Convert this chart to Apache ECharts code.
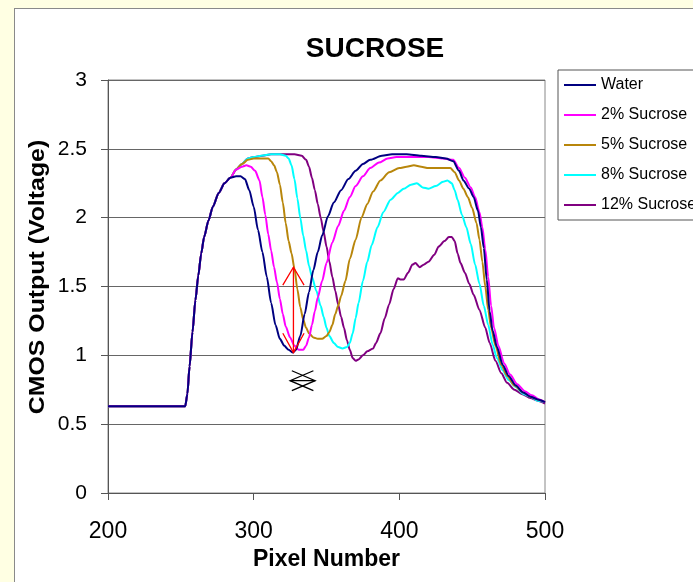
<!DOCTYPE html>
<html>
<head>
<meta charset="utf-8">
<script src="https://cdn.jsdelivr.net/npm/echarts@6/dist/echarts.min.js"></script>
<style>
  html, body { margin: 0; padding: 0; width: 693px; height: 582px; overflow: hidden; background: #FFFFE3; }
  #frame { position: absolute; left: 14px; top: 8px; width: 720px; height: 620px; background: #fff; border: 1px solid #8a8a8a; }
  #chart { position: absolute; left: 0; top: 0; width: 693px; height: 582px; }
</style>
</head>
<body>
<div id="frame"></div>
<div id="chart"></div>
<script>
// ---- Data ----
var seriesNames = ['Water', '2% Sucrose', '5% Sucrose', '8% Sucrose', '12% Sucrose'];

// common rising edge shared by all curves
var riseX = [200, 253, 254.5, 256, 258, 260, 262, 264, 266, 269, 272, 276, 280, 284];
var riseY = [0.63, 0.63, 0.72, 0.92, 1.17, 1.40, 1.58, 1.74, 1.86, 1.98, 2.08, 2.18, 2.25, 2.29];

var waterX = [288, 291, 294, 297, 300, 303, 306, 309, 312, 315, 318, 321, 324, 327, 329, 332, 335, 338, 341, 344, 347, 351, 355, 360, 365, 370, 375, 380, 388, 395, 405, 415, 425, 432, 437, 441, 444, 448, 451, 454, 456, 458, 460, 462, 464, 467, 471, 475, 480, 485, 490, 495, 500];
var waterY = [2.30, 2.30, 2.28, 2.20, 2.08, 1.91, 1.75, 1.57, 1.38, 1.22, 1.12, 1.07, 1.04, 1.02, 1.04, 1.14, 1.30, 1.46, 1.62, 1.75, 1.87, 2.01, 2.11, 2.20, 2.28, 2.34, 2.39, 2.42, 2.45, 2.46, 2.46, 2.45, 2.44, 2.43, 2.41, 2.34, 2.27, 2.21, 2.15, 2.05, 1.93, 1.78, 1.55, 1.32, 1.18, 1.06, 0.93, 0.85, 0.78, 0.73, 0.70, 0.68, 0.66];

var suc2X = [288, 292, 295, 298, 301, 304, 306, 308, 310, 312, 314, 316, 318, 320, 322, 325, 328, 331, 334, 336, 338, 340, 342, 344, 347, 350, 354, 358, 362, 366, 370, 375, 380, 386, 392, 398, 410, 420, 430, 437, 441, 445, 449, 452, 455, 457, 459, 461, 463, 465, 468, 472, 476, 481, 486, 491, 496, 500];
var suc2Y = [2.35, 2.37, 2.38, 2.37, 2.34, 2.27, 2.15, 2.02, 1.88, 1.76, 1.64, 1.53, 1.41, 1.30, 1.21, 1.13, 1.07, 1.04, 1.04, 1.07, 1.13, 1.22, 1.32, 1.42, 1.54, 1.67, 1.82, 1.94, 2.05, 2.15, 2.23, 2.30, 2.36, 2.40, 2.43, 2.44, 2.44, 2.44, 2.43, 2.42, 2.36, 2.29, 2.22, 2.15, 2.04, 1.93, 1.77, 1.57, 1.36, 1.20, 1.07, 0.94, 0.86, 0.79, 0.74, 0.71, 0.68, 0.66];

var suc5X = [288, 292, 296, 300, 306, 310, 312, 314, 316, 318, 320, 322, 324, 326, 328, 330, 332, 334, 336, 338, 341, 344, 347, 350, 352, 354, 356, 358, 360, 363, 366, 370, 374, 378, 382, 387, 393, 400, 405, 410, 415, 420, 428, 435, 438, 441, 444, 447, 450, 453, 455, 457, 459, 461, 463, 466, 470, 474, 479, 485, 490, 495, 500];
var suc5Y = [2.35, 2.39, 2.42, 2.43, 2.43, 2.43, 2.41, 2.38, 2.33, 2.24, 2.11, 1.96, 1.83, 1.74, 1.63, 1.48, 1.35, 1.26, 1.20, 1.16, 1.13, 1.12, 1.12, 1.14, 1.17, 1.22, 1.30, 1.36, 1.43, 1.54, 1.70, 1.84, 2.00, 2.10, 2.19, 2.27, 2.33, 2.36, 2.37, 2.38, 2.37, 2.36, 2.36, 2.36, 2.33, 2.27, 2.21, 2.15, 2.07, 1.96, 1.84, 1.68, 1.50, 1.33, 1.20, 1.07, 0.93, 0.85, 0.78, 0.73, 0.70, 0.68, 0.66];

var suc8X = [288, 292, 296, 300, 305, 312, 318, 322, 324, 326, 328, 330, 332, 334, 336, 338, 340, 343, 346, 348, 350, 352, 355, 358, 361, 364, 366, 368, 370, 372, 375, 378, 381, 385, 389, 394, 399, 403, 408, 412, 416, 420, 425, 430, 433, 436, 438, 440, 443, 446, 449, 452, 455, 458, 461, 464, 467, 471, 475, 480, 485, 490, 495, 500];
var suc8Y = [2.35, 2.39, 2.43, 2.44, 2.45, 2.46, 2.46, 2.45, 2.43, 2.38, 2.28, 2.14, 2.00, 1.87, 1.76, 1.65, 1.57, 1.47, 1.36, 1.28, 1.20, 1.14, 1.09, 1.06, 1.05, 1.06, 1.09, 1.16, 1.27, 1.38, 1.54, 1.68, 1.80, 1.93, 2.04, 2.13, 2.18, 2.21, 2.24, 2.25, 2.22, 2.21, 2.23, 2.26, 2.27, 2.25, 2.20, 2.13, 2.02, 1.93, 1.81, 1.66, 1.52, 1.36, 1.22, 1.08, 0.98, 0.89, 0.82, 0.77, 0.72, 0.70, 0.67, 0.66];

var suc12X = [288, 292, 296, 300, 306, 312, 320, 328, 333, 336, 338, 340, 342, 344, 346, 348, 350, 352, 354, 356, 358, 360, 362, 364, 366, 368, 370, 372, 375, 378, 382, 384, 387, 390, 393, 396, 399, 401, 403, 406, 409, 411, 414, 417, 420, 424, 427, 431, 434, 436, 438, 440, 442, 445, 448, 451, 455, 459, 462, 466, 470, 474, 479, 484, 490, 495, 500];
var suc12Y = [2.35, 2.39, 2.43, 2.44, 2.45, 2.46, 2.46, 2.46, 2.45, 2.42, 2.37, 2.29, 2.20, 2.10, 2.00, 1.90, 1.79, 1.68, 1.57, 1.47, 1.37, 1.28, 1.20, 1.11, 1.04, 0.98, 0.96, 0.97, 1.00, 1.03, 1.05, 1.09, 1.16, 1.27, 1.37, 1.48, 1.56, 1.55, 1.55, 1.60, 1.66, 1.67, 1.64, 1.66, 1.68, 1.73, 1.79, 1.83, 1.86, 1.86, 1.83, 1.74, 1.67, 1.60, 1.52, 1.44, 1.33, 1.20, 1.09, 0.96, 0.87, 0.80, 0.75, 0.72, 0.69, 0.67, 0.65];

// annotations (data coordinates)
var redShaft = [[327.3, 1.02], [327.3, 1.64]];
var redHeadTop = [[320.0, 1.51], [327.3, 1.64], [334.6, 1.51]];
var redHeadBottom = [[320.0, 1.16], [327.3, 1.02], [334.6, 1.16]];
var blackBar = [[325.0, 0.816], [342.2, 0.816]];
var blackLeftHead = [[341.0, 0.888], [325.0, 0.816], [341.0, 0.743]];
var blackRightHead = [[326.2, 0.888], [342.2, 0.816], [326.2, 0.743]];

var xTicks = { min: 200, max: 500, interval: 100 };
var yTicks = { min: 0, max: 3, interval: 0.5 };

var colors = ['#000080', '#FF00FF', '#B8860B', '#00FFFF', '#800080'];

function zip(xs, ys) {
  var out = [];
  for (var i = 0; i < xs.length; i++) out.push([xs[i], ys[i]]);
  return out;
}
function withRise(xs, ys) {
  return zip(riseX, riseY).concat(zip(xs, ys));
}

var curves = [
  withRise(waterX, waterY),
  withRise(suc2X, suc2Y),
  withRise(suc5X, suc5Y),
  withRise(suc8X, suc8Y),
  withRise(suc12X, suc12Y)
];

var FONT = '"Liberation Sans", Arial, sans-serif';
var chart = echarts.init(document.getElementById('chart'), null, { renderer: 'canvas' });

var series = [];
for (var s = 0; s < seriesNames.length; s++) {
  series.push({
    name: seriesNames[s],
    type: 'line',
    data: curves[s],
    symbol: 'none',
    smooth: 0.25,
    smoothMonotone: 'x',
    lineStyle: { color: colors[s], width: 2 },
    itemStyle: { color: colors[s] },
    z: 2 + (seriesNames.length - s)
  });
}
series.push({
  type: 'lines',
  coordinateSystem: 'cartesian2d',
  polyline: true,
  silent: true,
  z: 10,
  lineStyle: { color: '#FF0000', width: 1.3, opacity: 1 },
  data: [{ coords: redShaft }, { coords: redHeadTop }, { coords: redHeadBottom }]
});
series.push({
  type: 'lines',
  coordinateSystem: 'cartesian2d',
  polyline: true,
  silent: true,
  z: 10,
  lineStyle: { color: '#000000', width: 1.3, opacity: 1 },
  data: [{ coords: blackBar }, { coords: blackLeftHead }, { coords: blackRightHead }]
});

chart.setOption({
  backgroundColor: 'transparent',
  animation: false,
  textStyle: { fontFamily: FONT },
  title: {
    text: 'SUCROSE',
    left: 370,
    top: 30,
    textAlign: 'center',
    textStyle: { fontFamily: FONT, fontSize: 28, fontWeight: 'bold', color: '#000' }
  },
  legend: {
    data: seriesNames,
    orient: 'vertical',
    left: 558,
    top: 70,
    padding: [7, 30, 7, 6],
    icon: 'rect',
    itemWidth: 32,
    itemHeight: 2,
    itemGap: 14,
    borderColor: '#555',
    borderWidth: 1,
    backgroundColor: '#fff',
    textStyle: { fontFamily: FONT, fontSize: 16, color: '#000', lineHeight: 16 }
  },
  grid: {
    left: 108, right: 148, top: 80, bottom: 89,
    show: true, borderColor: '#888', borderWidth: 1, backgroundColor: '#fff'
  },
  xAxis: {
    type: 'value',
    min: xTicks.min, max: xTicks.max, interval: xTicks.interval,
    name: 'Pixel Number',
    nameLocation: 'middle',
    nameGap: 43,
    nameTextStyle: { fontFamily: FONT, fontSize: 23, fontWeight: 'bold', color: '#000' },
    axisLine: { show: true, lineStyle: { color: '#555', width: 1 } },
    axisTick: { show: true, inside: false, length: 7, lineStyle: { color: '#555' } },
    axisLabel: { fontFamily: FONT, fontSize: 23, color: '#000', margin: 27 },
    splitLine: { show: false }
  },
  yAxis: {
    type: 'value',
    min: yTicks.min, max: yTicks.max, interval: yTicks.interval,
    axisLine: { show: true, lineStyle: { color: '#555', width: 1 } },
    axisTick: { show: true, inside: false, length: 7, lineStyle: { color: '#555' } },
    axisLabel: { fontFamily: FONT, fontSize: 21, color: '#000', margin: 21 },
    splitLine: { show: true, lineStyle: { color: '#666', width: 1 } }
  },
  graphic: [{
    type: 'text',
    x: 38,
    y: 277,
    rotation: Math.PI / 2,
    scaleX: 1.13,
    style: {
      text: 'CMOS Output (Voltage)',
      fontFamily: FONT,
      fontSize: 22,
      fontWeight: 'bold',
      fill: '#000',
      textAlign: 'center',
      textVerticalAlign: 'middle'
    }
  }],
  series: series
});
</script>
</body>
</html>
